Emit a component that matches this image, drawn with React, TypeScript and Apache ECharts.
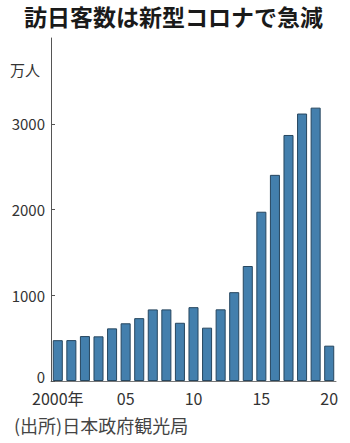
import React, { useEffect, useRef } from "react";
import * as echarts from "echarts";

const years = ["2000","2001","2002","2003","2004","2005","2006","2007","2008","2009","2010","2011","2012","2013","2014","2015","2016","2017","2018","2019","2020"];
const visitors = [476, 477, 524, 521, 614, 673, 733, 835, 835, 679, 861, 622, 836, 1036, 1341, 1974, 2404, 2869, 3119, 3188, 412];
const yTicks = [0, 1000, 2000, 3000];
const titleText = "訪日客数は新型コロナで急減";
const unitText = "万人";
const sourceText = "(出所)日本政府観光局";

const FONT = "'Noto Sans CJK JP', 'Noto Sans', sans-serif";

export default function App() {
  const ref = useRef<HTMLDivElement>(null);
  useEffect(() => {
    if (!ref.current) return;
    const chart = echarts.init(ref.current, null, { renderer: "svg" });
    chart.setOption({
      animation: false,
      textStyle: { fontFamily: FONT },
      grid: { left: 51, right: 14, top: 38, bottom: 62 },
      graphic: [
        { type: "text", left: 24, top: 4, style: { text: titleText, font: `bold 23px ${FONT}`, fill: "#1a1a1a" } },
        { type: "text", left: 10, top: 62, style: { text: unitText, font: `15px ${FONT}`, fill: "#333" } },
        { type: "text", left: 14, top: 416, style: { text: sourceText, font: `18px ${FONT}`, fill: "#444" } },
      ],
      xAxis: {
        type: "category",
        data: years,
        axisLine: { lineStyle: { color: "#777", width: 1 } },
        axisTick: { show: false },
        axisLabel: {
          interval: 4,
          margin: 9,
          color: "#333",
          fontSize: 16,
          lineHeight: 16,
          fontFamily: FONT,
          formatter: (v: string) => (v === "2000" ? "2000年" : v.slice(2)),
        },
      },
      yAxis: {
        type: "value",
        min: 0,
        max: 4000,
        interval: 1000,
        splitLine: { show: false },
        axisLine: { show: true, lineStyle: { color: "#555", width: 1 } },
        axisTick: { show: true, inside: true, length: 4, lineStyle: { color: "#555" }, customValues: yTicks },
        axisLabel: {
          color: "#333",
          fontSize: 15,
          margin: 6,
          fontFamily: FONT,
          customValues: yTicks,
          formatter: (v: number) => (v === 0 ? "{z|0}" : String(v)),
          rich: { z: { fontSize: 15, lineHeight: 14, color: "#333", padding: [0, 0, 10, 0] } },
        },
      },
      series: [
        {
          type: "bar",
          data: visitors,
          barCategoryGap: "26%",
          itemStyle: { color: "#437fad", borderColor: "#26465f", borderWidth: 1 },
        },
      ],
    });
    return () => chart.dispose();
  }, []);
  return <div ref={ref} style={{ width: 350, height: 443, position: "absolute", left: 0, top: 0 }} />;
}
